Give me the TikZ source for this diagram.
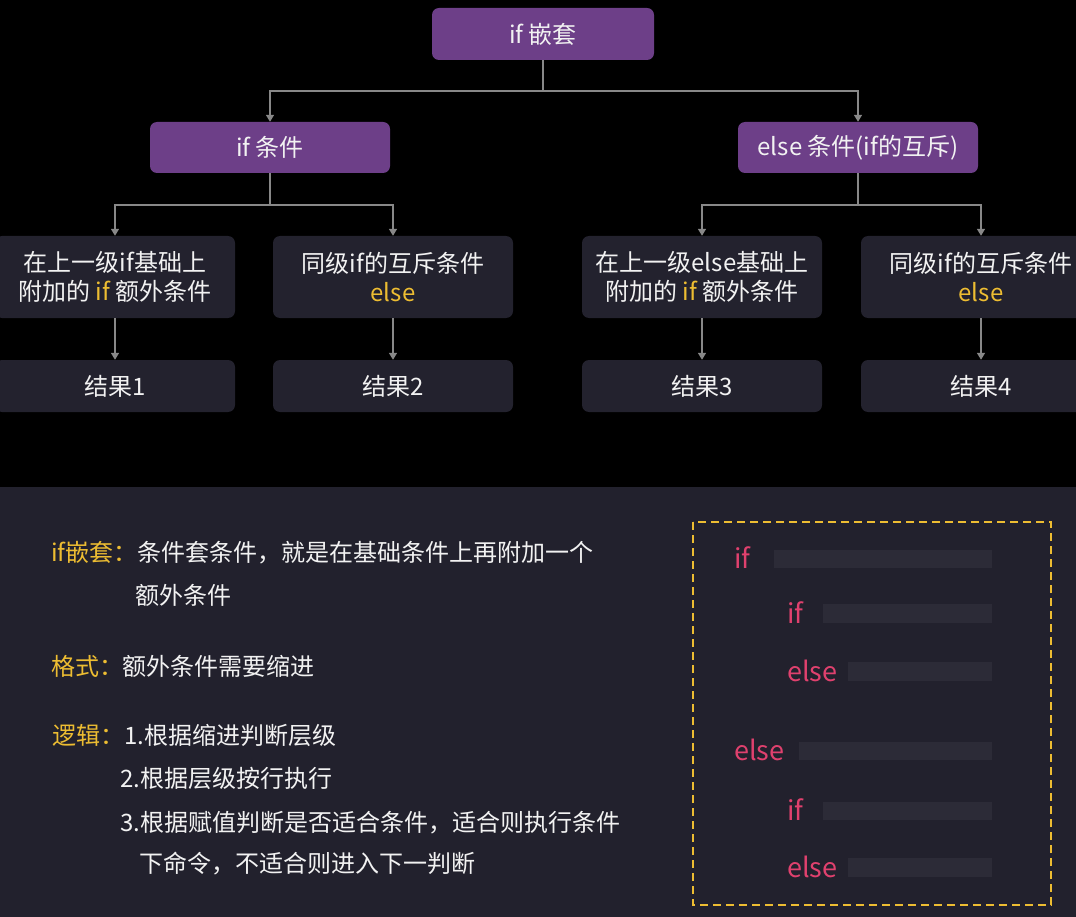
\documentclass[tikz,border=0pt]{standalone}
\usepackage{fontspec}
\setmainfont{Noto Sans CJK SC}
\usetikzlibrary{arrows.meta}
\definecolor{panelbg}{HTML}{22212D}
\definecolor{boxbg}{HTML}{23222E}
\definecolor{purp}{HTML}{6D3F88}
\definecolor{connc}{HTML}{888888}
\definecolor{ylw}{HTML}{EDBD32}
\definecolor{pnk}{HTML}{E0416E}
\definecolor{barc}{HTML}{2C2B37}
\definecolor{txt}{HTML}{F2F2F2}
\tikzset{
  basefont/.style={font=\fontsize{24}{29}\selectfont},
  pbox/.style={basefont, fill=purp, rounded corners=7pt, minimum width=240pt, minimum height=51pt, inner sep=0pt, text=txt, align=center},
  dbox/.style={basefont, fill=boxbg, rounded corners=7pt, minimum width=240pt, minimum height=52pt, inner sep=0pt, text=txt, align=center},
  conn/.style={draw=connc, line width=1.5pt, -{Triangle[width=8pt,length=7pt]}},
  plain/.style={draw=connc, line width=1.5pt},
  lbl/.style={basefont, text=ylw, anchor=base west, inner sep=0pt},
  body/.style={basefont, text=txt, anchor=base west, inner sep=0pt},
  code/.style={font=\fontsize{27}{32}\selectfont, text=pnk, anchor=base west, inner sep=0pt},
  bar/.style={fill=barc},
  frame/.style={draw=ylw, line width=2pt, dash pattern=on 8pt off 5pt}
}
\begin{document}
\begin{tikzpicture}[x=1pt,y=-1pt]
\clip (0,0) rectangle (1076,917);
\fill[black] (0,0) rectangle (1076,487);
\fill[panelbg] (0,487) rectangle (1076,917);
% tree
\node[pbox, minimum width=222pt, minimum height=52pt] (root) at (543,34) {if 嵌套};
\node[pbox] (ifc) at (270,147.5) {if 条件};
\node[pbox] (elc) at (858,147.5) {else 条件(if的互斥)};
\node[dbox, minimum height=82pt] (b1) at (115,277) {在上一级if基础上\\附加的 \textcolor{ylw}{if} 额外条件};
\node[dbox, minimum height=82pt] (b2) at (393,277) {同级if的互斥条件\\\textcolor{ylw}{else}};
\node[dbox, minimum height=82pt] (b3) at (702,277) {在上一级else基础上\\附加的 \textcolor{ylw}{if} 额外条件};
\node[dbox, minimum height=82pt] (b4) at (981,277) {同级if的互斥条件\\\textcolor{ylw}{else}};
\node[dbox] (r1) at (115,386) {结果1};
\node[dbox] (r2) at (393,386) {结果2};
\node[dbox] (r3) at (702,386) {结果3};
\node[dbox] (r4) at (981,386) {结果4};
\draw[plain] (root.south) -- ++(0,31) coordinate (jr);
\draw[conn] (jr) -| (ifc.north);
\draw[conn] (jr) -| (elc.north);
\draw[plain] (ifc.south) -- ++(0,32) coordinate (ji);
\draw[conn] (ji) -| (b1.north);
\draw[conn] (ji) -| (b2.north);
\draw[plain] (elc.south) -- ++(0,32) coordinate (je);
\draw[conn] (je) -| (b3.north);
\draw[conn] (je) -| (b4.north);
\draw[conn] (b1.south) -- (r1.north);
\draw[conn] (b2.south) -- (r2.north);
\draw[conn] (b3.south) -- (r3.north);
\draw[conn] (b4.south) -- (r4.north);
% notes
\node[lbl] (l1) at (51,561) {if嵌套：};
\node[body] (t1a) at (137,561) {条件套条件，就是在基础条件上再附加一个};
\node[body] (t1b) at (135,604) {额外条件};
\node[lbl] (l2) at (51,675) {格式：};
\node[body] (t2) at (122,675) {额外条件需要缩进};
\node[lbl] (l3) at (52,744.5) {逻辑：};
\node[body] (t3a) at (124,744.5) {1.根据缩进判断层级};
\node[body] (t3b) at (120,787) {2.根据层级按行执行};
\node[body] (t3c) at (120,831) {3.根据赋值判断是否适合条件，适合则执行条件};
\node[body] (t3d) at (139,872) {下命令，不适合则进入下一判断};
% code sample
\draw[frame] (693,522) rectangle (1051,905);
\fill[bar] (774,550) rectangle (992,568);
\fill[bar] (823,604) rectangle (992,623);
\fill[bar] (848,662) rectangle (992,681);
\fill[bar] (799,742) rectangle (992,760);
\fill[bar] (823,802) rectangle (992,820);
\fill[bar] (848,858) rectangle (992,877);
\node[code] (c1) at (734,568) {if};
\node[code] (c2) at (787,623) {if};
\node[code] (c3) at (787,681) {else};
\node[code] (c4) at (734,760) {else};
\node[code] (c5) at (787,820) {if};
\node[code] (c6) at (787,877) {else};
\end{tikzpicture}
\end{document}
